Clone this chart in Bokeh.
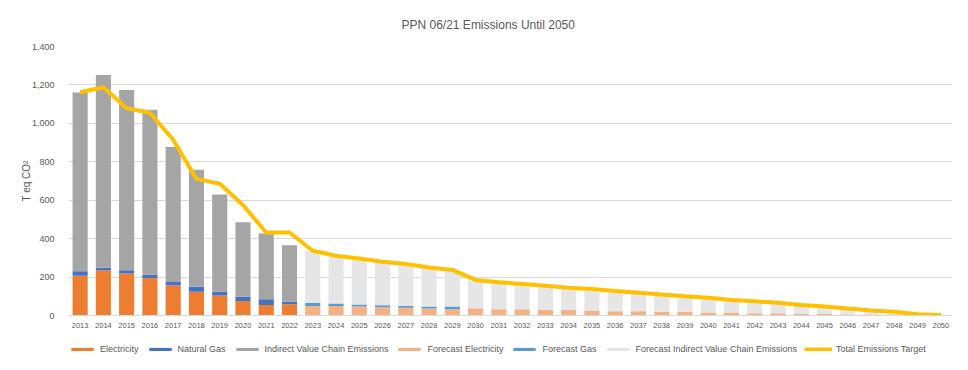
import math
from bokeh.plotting import figure
from bokeh.layouts import column
from bokeh.models import ColumnDataSource, Legend, LegendItem, NumeralTickFormatter, FixedTicker, Range1d
from bokeh.embed import file_html
from bokeh.resources import INLINE

years = [str(y) for y in range(2013, 2051)]

electricity = [207, 235, 219, 195, 157, 124, 104, 76, 54, 59] + [0] * 28
natural_gas = [23, 14, 16, 17, 18, 26, 20, 21, 31, 14] + [0] * 28
indirect = [930, 1003, 938, 859, 702, 608, 506, 388, 342, 293] + [0] * 28

forecast_electricity = [0] * 10 + [50, 50, 47, 43, 40, 36, 33, 38, 33, 33, 29, 29, 26, 22,
                                   22, 19, 19, 16, 16, 12, 12, 9, 9, 5, 5, 2, 1, 0]
forecast_gas = [0] * 10 + [16, 12, 10, 10, 10, 11, 14] + [0] * 21
forecast_indirect = [0] * 10 + [271, 254, 240, 228, 214, 200, 183, 143, 136, 125, 118, 109,
                                104, 99, 90, 83, 74, 69, 58, 55, 47, 41, 32, 24, 16, 10, 4, 0]

target = [1162, 1188, 1079, 1055, 915, 711, 686, 575, 432, 432, 337, 311, 297, 280, 268, 250,
          237, 185, 173, 164, 155, 145, 138, 128, 119, 109, 100, 92, 81, 74, 66, 55, 47, 36,
          26, 19, 7, 2]

series_names = ["Electricity", "Natural Gas", "Indirect Value Chain Emissions",
                "Forecast Electricity", "Forecast Gas", "Forecast Indirect Value Chain Emissions"]
series_keys = ["elec", "gas", "ind", "felec", "fgas", "find"]
series_colors = ["#ED7D31", "#4472C4", "#A5A5A5", "#F4B183", "#5B9BD5", "#E7E6E6"]
target_name = "Total Emissions Target"
target_color = "#FFC000"

source = ColumnDataSource(dict(
    years=years, elec=electricity, gas=natural_gas, ind=indirect,
    felec=forecast_electricity, fgas=forecast_gas, find=forecast_indirect, target=target))

TXT = "#595959"
FONT = "Liberation Sans"

p = figure(width=952, height=340, x_range=years, y_range=Range1d(0, 1400),
           output_backend="svg", toolbar_location=None,
           min_border_left=68, min_border_right=0, min_border_top=45, min_border_bottom=25)
p.x_range.range_padding = 0

bars = p.vbar_stack(series_keys, x="years", width=0.65, color=series_colors,
                    line_color=None, source=source)
ln = p.line(x="years", y="target", source=source, line_color=target_color, line_width=4)

p.title.text = "PPN 06/21 Emissions Until 2050"
p.title.text_font = FONT
p.title.text_font_size = "12px"
p.title.text_font_style = "normal"
p.title.text_color = TXT
p.title.align = "left"
p.title.offset = 333
p.title.standoff = 30

p.outline_line_color = None
p.xgrid.grid_line_color = None
p.ygrid.grid_line_color = "#D9D9D9"
p.ygrid.grid_line_width = 1

p.yaxis.ticker = FixedTicker(ticks=[0, 200, 400, 600, 800, 1000, 1200, 1400])
p.yaxis.formatter = NumeralTickFormatter(format="0,0")
p.yaxis.axis_line_color = None
p.yaxis.major_tick_line_color = None
p.yaxis.minor_tick_line_color = None
p.yaxis.major_label_text_font = FONT
p.yaxis.major_label_text_font_size = "9px"
p.yaxis.major_label_text_color = TXT
p.yaxis.major_label_standoff = 8
p.yaxis.axis_label = "T eq CO²"
p.yaxis.axis_label_text_font = FONT
p.yaxis.axis_label_text_font_size = "10px"
p.yaxis.axis_label_text_font_style = "normal"
p.yaxis.axis_label_text_color = TXT
p.yaxis.axis_label_standoff = -3

p.xaxis.axis_line_color = "#D9D9D9"
p.xaxis.major_tick_line_color = None
p.xaxis.minor_tick_line_color = None
p.xaxis.major_label_text_font = FONT
p.xaxis.major_label_text_font_size = "7.5px"
p.xaxis.major_label_text_color = TXT
p.xaxis.major_label_standoff = 1

# legend strip below the chart: hidden copies of the series provide the swatches
lf = figure(width=952, height=14, x_range=years, y_range=Range1d(0, 1400),
            output_backend="svg", toolbar_location=None,
            x_axis_location=None, y_axis_location=None,
            min_border_left=0, min_border_right=0, min_border_top=0, min_border_bottom=0)
lf.outline_line_color = None
lf.xgrid.grid_line_color = None
lf.ygrid.grid_line_color = None
swatches = [lf.vbar(x="years", top=k, width=0.65, fill_color=c, line_color=None, source=source)
            for k, c in zip(series_keys, series_colors)]
swatches.append(lf.line(x="years", y="target", source=source, line_color=target_color, line_width=4))
for r in swatches:
    r.visible = False
items = [LegendItem(label=n, renderers=[r]) for n, r in zip(series_names + [target_name], swatches)]
legend = Legend(items=items, orientation="horizontal", location=(0, 0),
                glyph_width=28, glyph_height=4, label_height=10, label_standoff=4,
                spacing=7, padding=0, margin=0, border_line_color=None,
                background_fill_alpha=0, inactive_fill_alpha=0,
                label_text_font=FONT, label_text_font_size="9px", label_text_color=TXT)
lf.add_layout(legend, "center")

layout = column(p, lf, spacing=0)
open("out.html", "w").write(file_html(layout, INLINE))
